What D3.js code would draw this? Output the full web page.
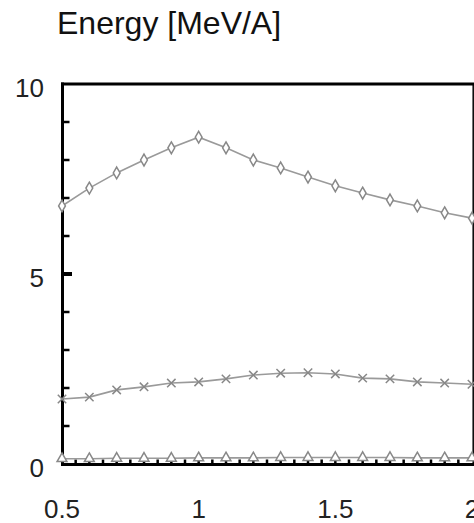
<!DOCTYPE html>
<html><head><meta charset="utf-8">
<script src="https://cdn.jsdelivr.net/npm/d3@7"></script>
<style>body{margin:0;background:#fff}svg{display:block}</style>
</head><body>
<svg id="c" width="474" height="523"></svg>
<script>
const xValues = [0.5,0.6,0.7,0.8,0.9,1.0,1.1,1.2,1.3,1.4,1.5,1.6,1.7,1.8,1.9,2.0];
const seriesTop = [6.79,7.26,7.66,8.0,8.32,8.6,8.32,8.0,7.79,7.55,7.32,7.13,6.95,6.79,6.61,6.47];
const seriesMid = [1.71,1.76,1.95,2.03,2.13,2.16,2.24,2.34,2.39,2.40,2.37,2.26,2.24,2.16,2.13,2.10];
const seriesLow = [0.14,0.14,0.15,0.15,0.15,0.16,0.16,0.16,0.17,0.17,0.17,0.17,0.17,0.16,0.16,0.16];
const xTickLabels = ["0.5","1","1.5","2"];
const xTickValues = [0.5,1,1.5,2];
const yTickLabels = ["0","5","10"];
const yTickValues = [0,5,10];
const title = "Energy [MeV/A]";

const svg = d3.select("#c");
const x = d3.scaleLinear().domain([0.5,2]).range([62,472]);
const y = d3.scaleLinear().domain([0,10]).range([464,84]);
const font = "'Liberation Sans', Arial, sans-serif";

svg.append("text").attr("x",57).attr("y",34).attr("font-family",font)
  .attr("font-size",32).attr("fill","#111").text(title);

// minor y ticks
const g = svg.append("g");
d3.range(1,10).forEach(v=>{
  const major = v===5;
  g.append("line").attr("x1",x(0.5)).attr("x2",x(0.5)+(major?10:7.5))
   .attr("y1",y(v)).attr("y2",y(v)).attr("stroke","#000").attr("stroke-width",major?4:2.5);
});
// minor x ticks
d3.range(0.55,2.0,0.05).forEach(v=>{
  g.append("line").attr("x1",x(v)).attr("x2",x(v))
   .attr("y1",y(0)).attr("y2",y(0)-4.5).attr("stroke","#000").attr("stroke-width",2.5);
});

// frame
svg.append("line").attr("x1",62.5).attr("x2",62.5).attr("y1",y(10)-1.5).attr("y2",y(0)+1.5).attr("stroke","#000").attr("stroke-width",3);
svg.append("line").attr("x1",61).attr("x2",474).attr("y1",y(10)).attr("y2",y(10)).attr("stroke","#000").attr("stroke-width",3);
svg.append("line").attr("x1",61).attr("x2",474).attr("y1",y(0)+0.5).attr("y2",y(0)+0.5).attr("stroke","#000").attr("stroke-width",3);
svg.append("line").attr("x1",473.2).attr("x2",473.2).attr("y1",y(10)).attr("y2",y(0)).attr("stroke","#000").attr("stroke-width",1.5);

// tick labels
yTickValues.forEach((v,i)=>{
  svg.append("text").attr("x",44).attr("y",y(v)+12.5).attr("text-anchor","end")
   .attr("font-family",font).attr("font-size",26).attr("fill","#222").text(yTickLabels[i]);
});
xTickValues.forEach((v,i)=>{
  svg.append("text").attr("x",x(v)).attr("y",518).attr("text-anchor","middle")
   .attr("font-family",font).attr("font-size",26).attr("fill","#222").text(xTickLabels[i]);
});

const line = d3.line().x((d,i)=>x(xValues[i])).y(d=>y(d));
function drawSeries(vals, sym, size, fill){
  svg.append("path").attr("d",line(vals)).attr("fill","none").attr("stroke","#9a9a9a").attr("stroke-width",1.6);
  svg.append("g").selectAll("path").data(vals).join("path")
    .attr("transform",(d,i)=>`translate(${x(xValues[i])},${y(d)})`)
    .attr("d",d3.symbol().type(sym).size(size))
    .attr("fill",fill).attr("stroke","#888").attr("stroke-width",1.5);
}
drawSeries(seriesTop, d3.symbolDiamond, 40, "#fff");
drawSeries(seriesMid, d3.symbolTimes, 48, "none");
drawSeries(seriesLow, d3.symbolTriangle, 42, "#fff");
</script>
</body></html>
